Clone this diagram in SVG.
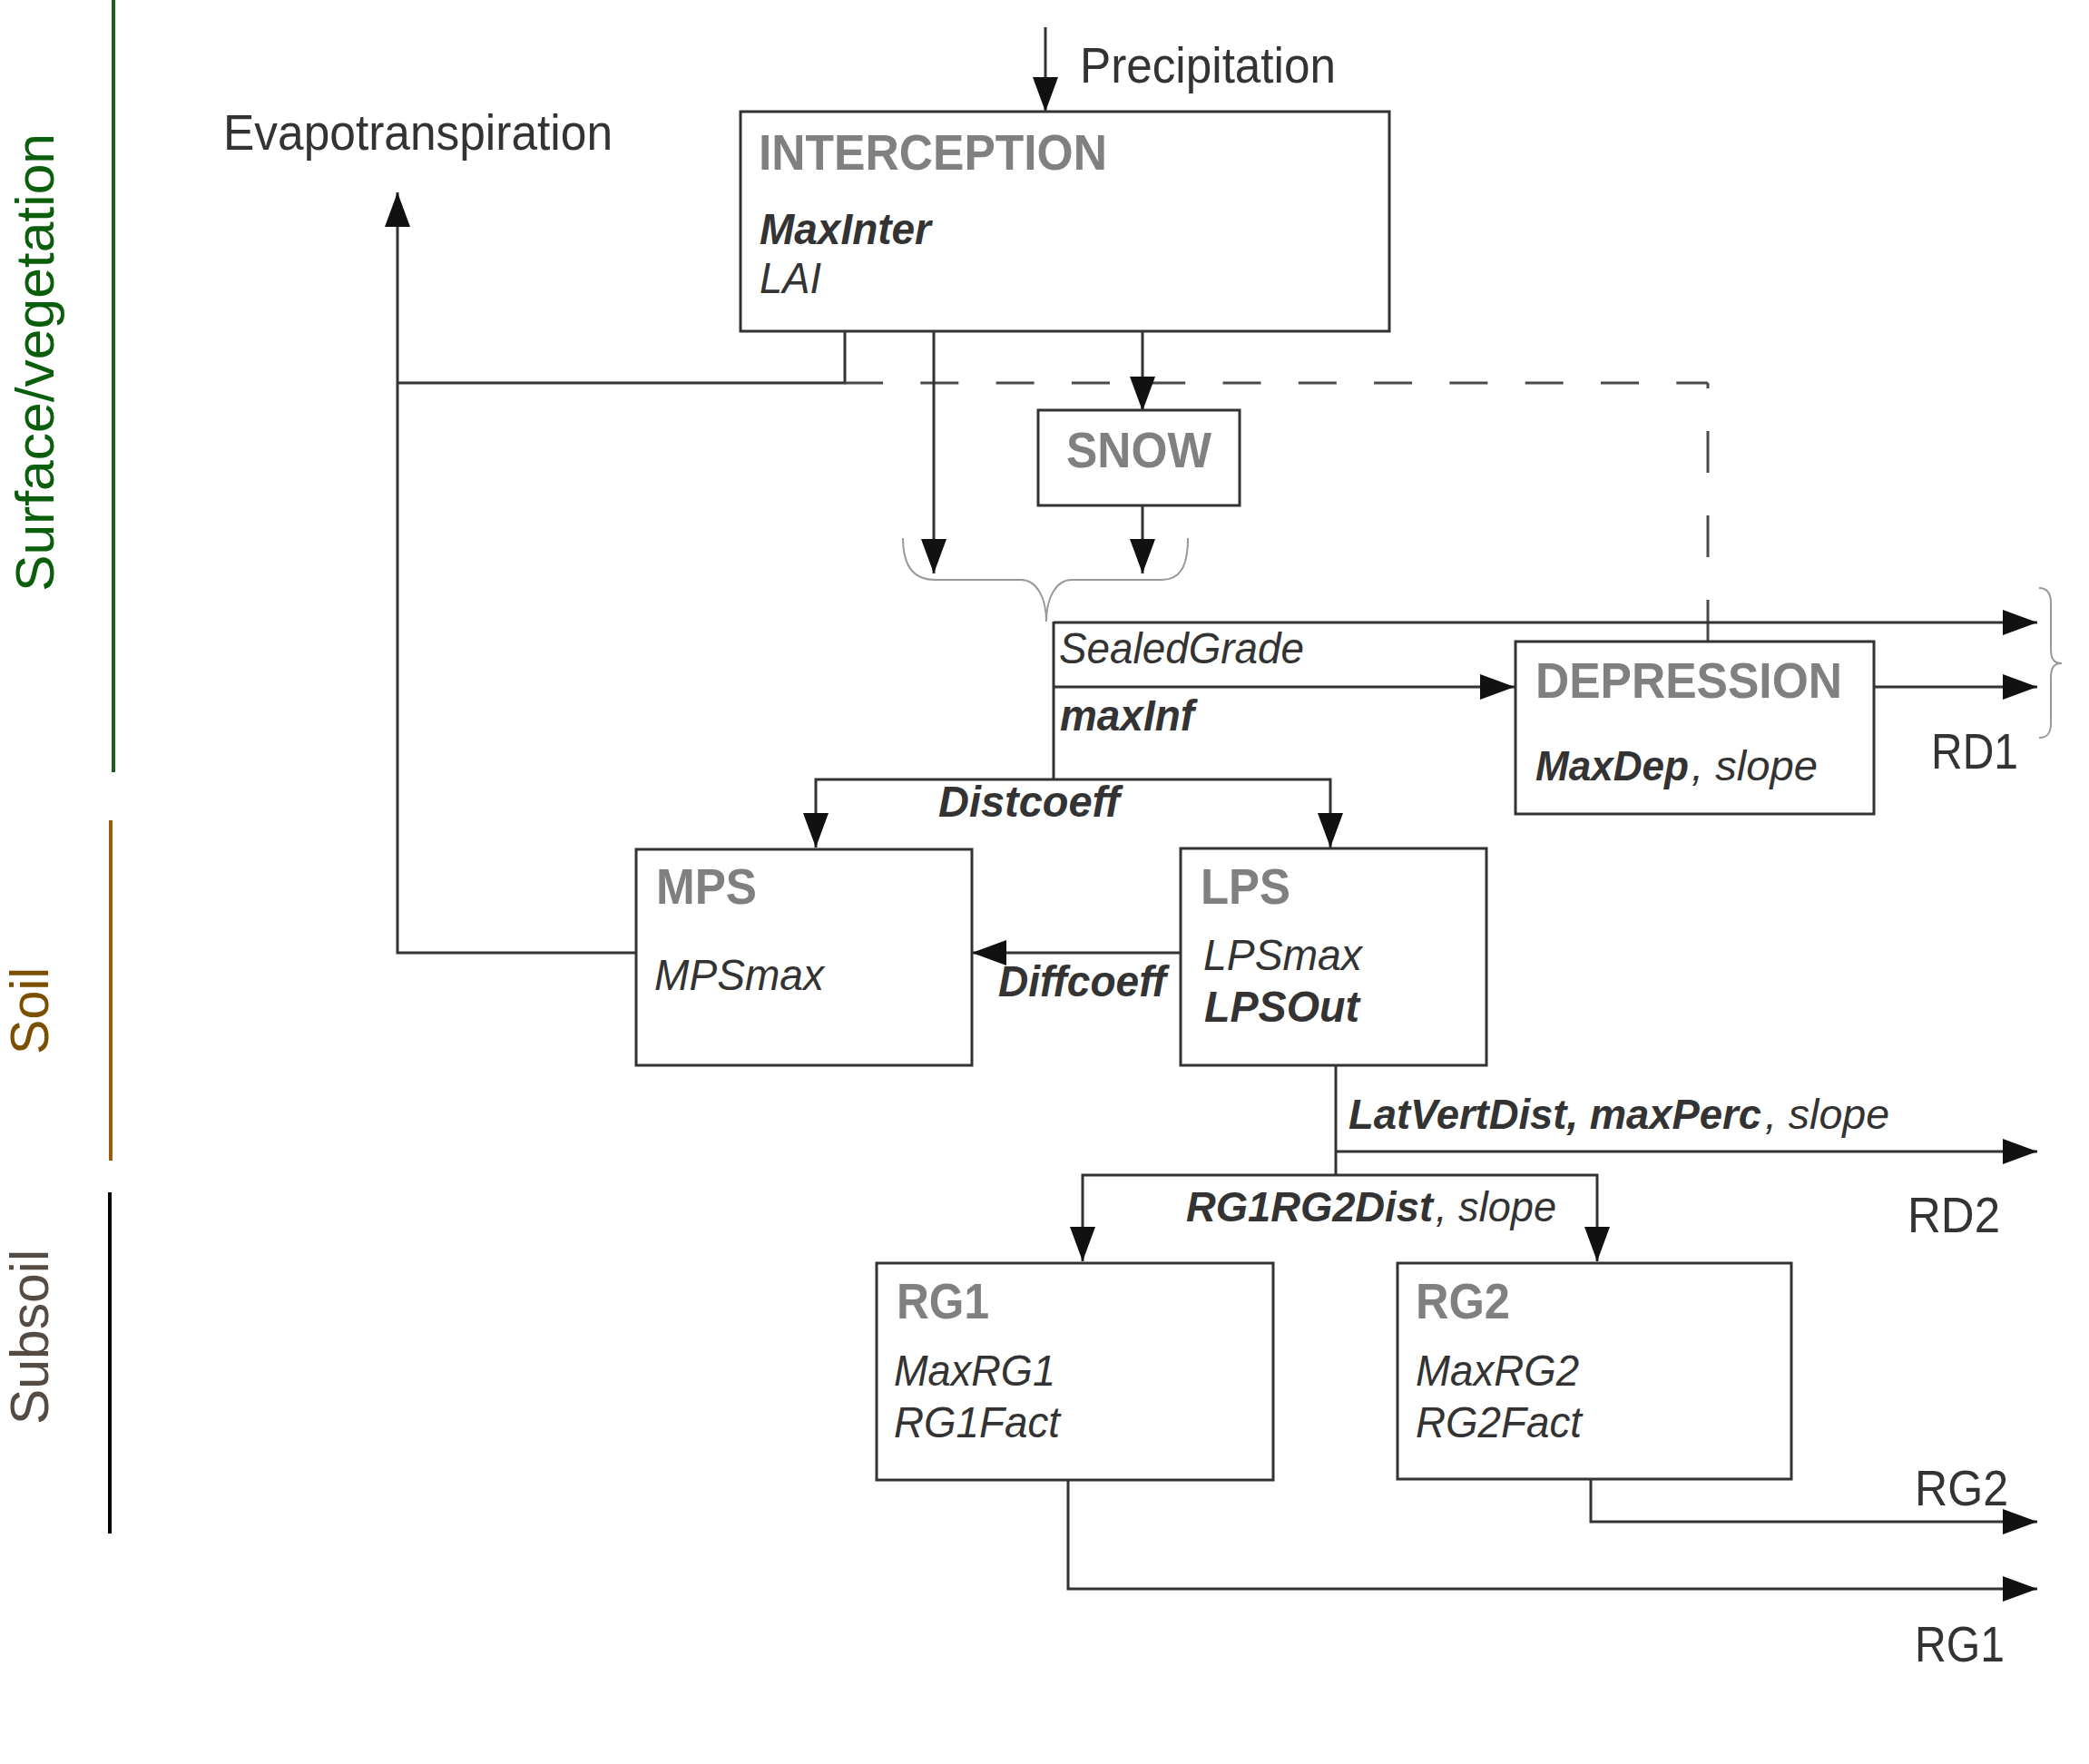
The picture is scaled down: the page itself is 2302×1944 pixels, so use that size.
<svg xmlns="http://www.w3.org/2000/svg" width="2302" height="1944" viewBox="0 0 2302 1944">
<defs>
<marker id="arr" markerUnits="userSpaceOnUse" markerWidth="40" markerHeight="30" refX="38" refY="14" orient="auto">
<path d="M0,0 L38,14 L0,28 z" fill="#111"/>
</marker>
<style>
.box{fill:#fff;stroke:#333;stroke-width:3}
.ln{fill:none;stroke:#333;stroke-width:3}
.ar{fill:none;stroke:#333;stroke-width:3;marker-end:url(#arr)}
.dash{fill:none;stroke:#4a4a4a;stroke-width:3;stroke-dasharray:42 41.3}
.vdash{fill:none;stroke:#4a4a4a;stroke-width:3;stroke-dasharray:46 47}
.brace{fill:none;stroke:#999;stroke-width:2}
.t{font-family:"Liberation Sans",Arial,sans-serif;fill:#333}
.lbl{font-size:56px}
.ttl{font-size:56px;font-weight:bold;fill:#808080}
.par{font-size:48px;font-style:italic}
.sm{font-size:46px}
.b{font-weight:bold}
.side{font-family:"Liberation Sans",Arial,sans-serif;font-size:60px}
</style>
</defs>
<rect width="2302" height="1944" fill="#fff"/>

<g id="layers">
<line x1="125" y1="0" x2="125" y2="851" stroke="#1a5e1a" stroke-width="4"/>
<line x1="122" y1="904" x2="122" y2="1279" stroke="#985c0a" stroke-width="4"/>
<line x1="121" y1="1314" x2="121" y2="1690" stroke="#000" stroke-width="4"/>
<text class="side" transform="translate(59,652) rotate(-90)" fill="#0b5e0b" textLength="505" lengthAdjust="spacingAndGlyphs">Surface/vegetation</text>
<text class="side" transform="translate(53,1162) rotate(-90)" fill="#7a5000" textLength="96" lengthAdjust="spacingAndGlyphs">Soil</text>
<text class="side" transform="translate(53,1570) rotate(-90)" fill="#544b45" textLength="193" lengthAdjust="spacingAndGlyphs">Subsoil</text>
</g>

<g id="connectors">
<line class="ar" x1="1152" y1="30" x2="1152" y2="123"/>
<path class="ar" d="M708,1050 H438 V212"/>
<path class="ln" d="M931,365 V422 H438"/>
<path class="dash" d="M931,422 H1882"/>
<path class="vdash" d="M1882,707 V422"/>
<line class="ar" x1="1029" y1="365" x2="1029" y2="632"/>
<line class="ar" x1="1259" y1="365" x2="1259" y2="453"/>
<line class="ar" x1="1259" y1="557" x2="1259" y2="632"/>
<path class="brace" d="M995,593 C995,625 1008,639 1030,639 H1125 C1143,639 1153,660 1153,685 C1153,660 1163,639 1181,639 H1280 C1300,639 1309,625 1309,593"/>
<line class="ln" x1="1161" y1="685" x2="1161" y2="859"/>
<path class="ar" d="M1161,686 H2245"/>
<path class="ar" d="M1161,757 H1669"/>
<path class="ar" d="M1161,859 H899 V934"/>
<path class="ar" d="M1161,859 H1466 V934"/>
<path class="ar" d="M2065,757 H2245"/>
<path class="brace" d="M2247,648 C2257,648 2260,655 2260,665 V715 C2260,726 2263,731 2272,731 C2263,731 2260,736 2260,747 V797 C2260,807 2257,813 2247,813"/>
<path class="ar" d="M1301,1050 H1071"/>
<line class="ln" x1="1472" y1="1174" x2="1472" y2="1295"/>
<path class="ar" d="M1472,1269 H2245"/>
<path class="ar" d="M1472,1295 H1193 V1390"/>
<path class="ar" d="M1472,1295 H1760 V1390"/>
<path class="ar" d="M1753,1630 V1677 H2245"/>
<path class="ar" d="M1177,1631 V1751 H2245"/>
</g>

<g id="labels">
<text class="t lbl" x="246" y="165" textLength="429" lengthAdjust="spacingAndGlyphs">Evapotranspiration</text>
<text class="t lbl" x="1190" y="91" textLength="282" lengthAdjust="spacingAndGlyphs">Precipitation</text>
<text class="t par" x="1167" y="731" textLength="270" lengthAdjust="spacingAndGlyphs">SealedGrade</text>
<text class="t par b" x="1168" y="805" textLength="148" lengthAdjust="spacingAndGlyphs">maxInf</text>
<text class="t par b" x="1034" y="900" textLength="200" lengthAdjust="spacingAndGlyphs">Distcoeff</text>
<text class="t par b" x="1100" y="1098" textLength="185" lengthAdjust="spacingAndGlyphs">Diffcoeff</text>
<text class="t lbl" x="2128" y="847" textLength="96" lengthAdjust="spacingAndGlyphs">RD1</text>
<text class="t par sm b" x="1486" y="1244" textLength="455" lengthAdjust="spacingAndGlyphs">LatVertDist, maxPerc</text>
<text class="t par sm" x="1945" y="1244" textLength="137" lengthAdjust="spacingAndGlyphs">, slope</text>
<text class="t lbl" x="2102" y="1358" textLength="102" lengthAdjust="spacingAndGlyphs">RD2</text>
<text class="t par sm b" x="1307" y="1346" textLength="272" lengthAdjust="spacingAndGlyphs">RG1RG2Dist</text>
<text class="t par sm" x="1582" y="1346" textLength="133" lengthAdjust="spacingAndGlyphs">, slope</text>
<text class="t lbl" x="2110" y="1659" textLength="103" lengthAdjust="spacingAndGlyphs">RG2</text>
<text class="t lbl" x="2110" y="1831" textLength="99" lengthAdjust="spacingAndGlyphs">RG1</text>
</g>

<g id="interception">
<rect class="box" x="816" y="123" width="715" height="242"/>
<text class="t ttl" x="836" y="187" textLength="384" lengthAdjust="spacingAndGlyphs">INTERCEPTION</text>
<text class="t par b" x="837" y="269" textLength="189" lengthAdjust="spacingAndGlyphs">MaxInter</text>
<text class="t par" x="837" y="323" textLength="68" lengthAdjust="spacingAndGlyphs">LAI</text>
</g>

<g id="snow">
<rect class="box" x="1144" y="452" width="222" height="105"/>
<text class="t ttl" x="1175" y="515" textLength="160" lengthAdjust="spacingAndGlyphs">SNOW</text>
</g>

<g id="depression">
<rect class="box" x="1670" y="707" width="395" height="190"/>
<text class="t ttl" x="1692" y="769" textLength="338" lengthAdjust="spacingAndGlyphs">DEPRESSION</text>
<text class="t par sm b" x="1692" y="860" textLength="169" lengthAdjust="spacingAndGlyphs">MaxDep</text>
<text class="t par sm" x="1864" y="860" textLength="139" lengthAdjust="spacingAndGlyphs">, slope</text>
</g>

<g id="mps">
<rect class="box" x="701" y="936" width="370" height="238"/>
<text class="t ttl" x="723" y="996" textLength="111" lengthAdjust="spacingAndGlyphs">MPS</text>
<text class="t par" x="721" y="1091" textLength="187" lengthAdjust="spacingAndGlyphs">MPSmax</text>
</g>

<g id="lps">
<rect class="box" x="1301" y="935" width="337" height="239"/>
<text class="t ttl" x="1323" y="996" textLength="99" lengthAdjust="spacingAndGlyphs">LPS</text>
<text class="t par" x="1326" y="1069" textLength="175" lengthAdjust="spacingAndGlyphs">LPSmax</text>
<text class="t par b" x="1327" y="1126" textLength="171" lengthAdjust="spacingAndGlyphs">LPSOut</text>
</g>

<g id="rg1">
<rect class="box" x="966" y="1392" width="437" height="239"/>
<text class="t ttl" x="988" y="1453" textLength="102" lengthAdjust="spacingAndGlyphs">RG1</text>
<text class="t par" x="985" y="1527" textLength="178" lengthAdjust="spacingAndGlyphs">MaxRG1</text>
<text class="t par" x="985" y="1584" textLength="183" lengthAdjust="spacingAndGlyphs">RG1Fact</text>
</g>

<g id="rg2">
<rect class="box" x="1540" y="1392" width="434" height="238"/>
<text class="t ttl" x="1560" y="1453" textLength="104" lengthAdjust="spacingAndGlyphs">RG2</text>
<text class="t par" x="1560" y="1527" textLength="180" lengthAdjust="spacingAndGlyphs">MaxRG2</text>
<text class="t par" x="1560" y="1584" textLength="183" lengthAdjust="spacingAndGlyphs">RG2Fact</text>
</g>
</svg>
